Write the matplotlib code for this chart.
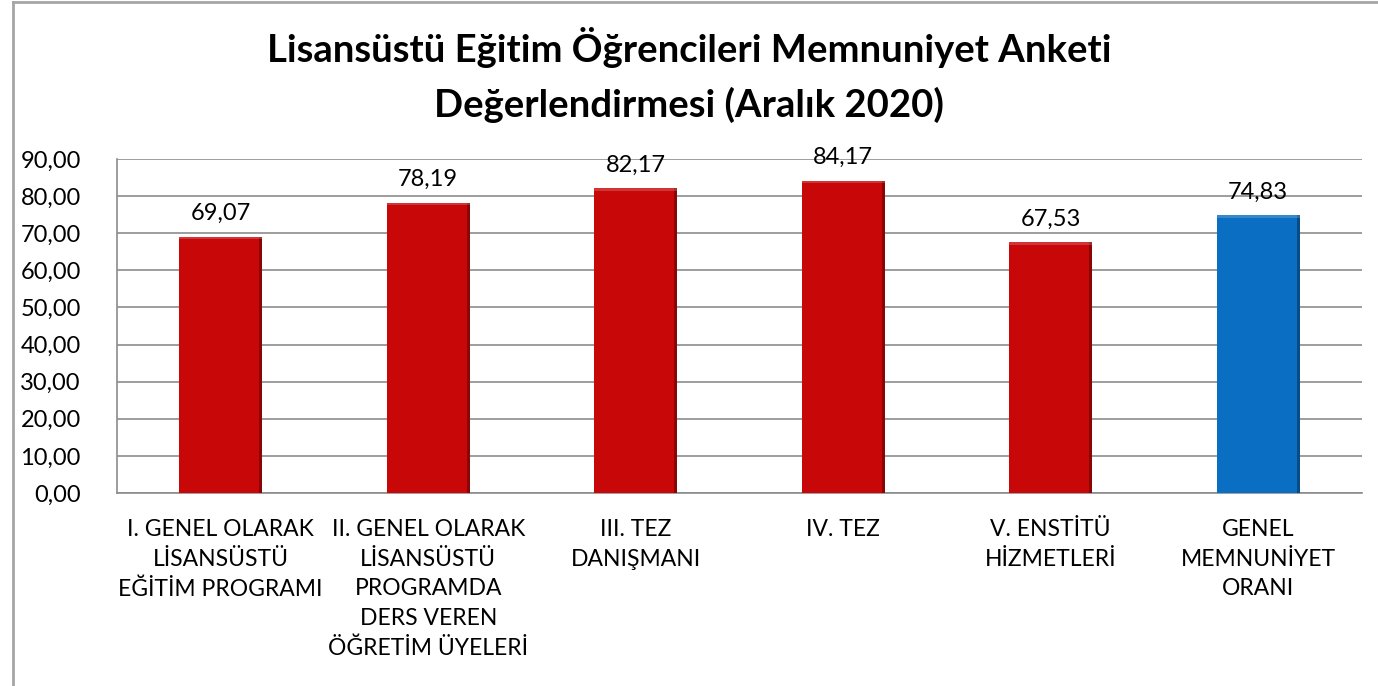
import matplotlib.pyplot as plt
from matplotlib.lines import Line2D
import numpy as np

plt.rcParams['font.family'] = ['Lato', 'DejaVu Sans']

categories = [
    'I. GENEL OLARAK\nLİSANSÜSTÜ\nEĞİTİM PROGRAMI',
    'II. GENEL OLARAK\nLİSANSÜSTÜ\nPROGRAMDA\nDERS VEREN\nÖĞRETİM ÜYELERİ',
    'III. TEZ\nDANIŞMANI',
    'IV. TEZ',
    'V. ENSTİTÜ\nHİZMETLERİ',
    'GENEL\nMEMNUNİYET\nORANI',
]
values = [69.07, 78.19, 82.17, 84.17, 67.53, 74.83]
colors = ['#C80808'] * 5 + ['#0A6FC2']

fig = plt.figure(figsize=(13.78, 6.86), dpi=100)
ax = fig.add_axes([117 / 1378, 1 - 493 / 686, (1362 - 117) / 1378, (493 - 159) / 686])

x = np.arange(len(values))
bars = ax.bar(x, values, width=0.4, color=colors, zorder=3,
              edgecolor='none')

# a little bevel look: dark right edge, lighter top band
for b, c in zip(bars, colors):
    bx, bw, bh = b.get_x(), b.get_width(), b.get_height()
    ax.bar(bx + bw * 0.965, bh, width=bw * 0.035, align='edge',
           color='black', alpha=0.3, zorder=4)
    ax.bar(bx, 0.7, bottom=bh - 0.7, width=bw, align='edge',
           color='white', alpha=0.18, zorder=4)

for xi, v in zip(x, values):
    ax.annotate(f'{v:.2f}'.replace('.', ','), (xi, v), xytext=(0, 9),
                textcoords='offset points', ha='center', va='bottom',
                fontsize=17)

ax.set_xlim(-0.5, len(values) - 0.5)
ax.set_ylim(0, 90)
ax.set_yticks(np.arange(0, 91, 10))
ax.set_yticklabels([f'{t:.2f}'.replace('.', ',') for t in np.arange(0, 91, 10)],
                   fontsize=17)
ax.set_xticks(x)
ax.set_xticklabels(categories, fontsize=16.5, linespacing=1.5, va='top')
ax.tick_params(axis='x', length=0, pad=19)
ax.tick_params(axis='y', length=0, pad=26)
ax.yaxis.grid(True, color='#8c8c8c', linewidth=1.2, zorder=0)
ax.set_axisbelow(True)
for s in ['top', 'right']:
    ax.spines[s].set_visible(False)
for s in ['left', 'bottom']:
    ax.spines[s].set_color('#8c8c8c')
    ax.spines[s].set_linewidth(1.2)

fig.text(689 / 1378, 1 - 75 / 686,
         'Lisansüstü Eğitim Öğrencileri Memnuniyet Anketi\nDeğerlendirmesi (Aralık 2020)',
         ha='center', va='center', fontsize=27.5, fontweight='bold',
         linespacing=1.6)

# chart frame
fig.add_artist(Line2D([13 / 1378, 13 / 1378], [0, 1 - 2 / 686],
                      transform=fig.transFigure, color='#a6a6a6', lw=2))
fig.add_artist(Line2D([13 / 1378, 1], [1 - 2 / 686, 1 - 2 / 686],
                      transform=fig.transFigure, color='#a6a6a6', lw=2))

fig.savefig('out.png', dpi=100)
